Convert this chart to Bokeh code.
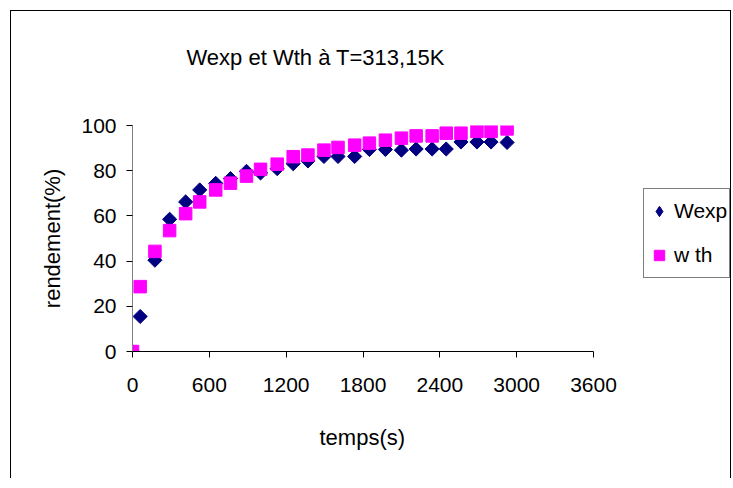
import math
from bokeh.plotting import figure
from bokeh.models import Range1d, FixedTicker, Legend, LegendItem, Title, LinearAxis
from bokeh.embed import file_html
from bokeh.resources import INLINE

# ---- data ----
temps = [0, 60, 175, 290, 415, 525, 650, 765, 890, 1000, 1130, 1255, 1370,
         1495, 1605, 1735, 1850, 1975, 2100, 2215, 2340, 2450, 2565, 2690, 2800, 2925]
wexp = [0, 15.5, 40.4, 58.5, 66.2, 71.5, 74.4, 76.5, 79.7, 79.0, 80.9, 83.1, 84.3,
        86.3, 86.3, 86.3, 89.4, 89.4, 89.1, 89.6, 89.6, 89.6, 92.7, 92.7, 92.7, 92.5]
wth = [0, 28.7, 44.3, 53.5, 61.0, 66.2, 71.5, 74.5, 77.6, 80.6, 82.9, 86.2, 86.9,
       89.1, 90.3, 91.3, 92.2, 93.5, 94.4, 95.4, 95.4, 96.6, 96.6, 97.4, 97.4, 98.5]
x_ticks = [0, 600, 1200, 1800, 2400, 3000, 3600]
y_ticks = [0, 20, 40, 60, 80, 100]
title_text = "Wexp et Wth à T=313,15K"
x_label = "temps(s)"
y_label = "rendement(%)"
series_names = ["Wexp", "w th"]

FONT = "Liberation Sans"
TXT = "black"

# axis 0..3600 spans 461 px; the frame is extended to the right to host the legend
AXIS_PX = 461
FRAME_W = 598
x_end = x_ticks[-1] * FRAME_W / AXIS_PX

p = figure(frame_width=FRAME_W, frame_height=226,
           output_backend="svg", toolbar_location=None,
           x_range=Range1d(0, x_end), y_range=Range1d(0, y_ticks[-1]),
           min_border_left=121, min_border_right=0,
           min_border_top=114, min_border_bottom=126,
           margin=(10, 0, 0, 10),
           styles={"border-left": "1px solid black", "border-top": "1px solid black",
                   "border-right": "1px solid black"})

xa = p.below[0]   # the main x axis
ya = p.left[0]    # the main y axis

# invisible spacer between the frame and the title (hidden tick, no line, no label)
spacer = LinearAxis(ticker=FixedTicker(ticks=[x_ticks[0]]), axis_line_color=None,
                    major_tick_in=0, major_tick_out=56, minor_tick_in=0, minor_tick_out=0,
                    major_tick_line_color=None, minor_tick_line_color=None,
                    major_label_overrides={x_ticks[0]: ""},
                    major_label_text_font_size="0px",
                    major_label_standoff=0)
p.add_layout(spacer, "above")

p.title.text = title_text
p.title.text_font = FONT
p.title.text_font_size = "22px"
p.title.text_font_style = "normal"
p.title.text_color = TXT
p.title.align = "left"
p.title.offset = 54
p.title.standoff = 0

p.outline_line_color = None
p.background_fill_color = "white"
p.border_fill_color = "white"
p.xgrid.visible = False
p.ygrid.visible = False

# x axis
xa.ticker = FixedTicker(ticks=x_ticks)
xa.bounds = (x_ticks[0], x_ticks[-1])
xa.major_label_text_font = FONT
xa.major_label_text_font_size = "21px"
xa.major_label_text_color = TXT
xa.major_label_standoff = 20
xa.major_tick_in = 0
xa.major_tick_out = 6
xa.minor_tick_in = 0
xa.minor_tick_out = 0
xa.axis_line_color = "black"
xa.major_tick_line_color = "black"

# x axis title, centred under the 0..3600 axis
p.add_layout(Title(text=x_label, text_font=FONT, text_font_size="22px",
                   text_font_style="normal", text_color=TXT,
                   align="left", offset=187, standoff=57), "below")

# y axis
ya.ticker = FixedTicker(ticks=y_ticks)
ya.axis_label = y_label
ya.axis_label_text_font = FONT
ya.axis_label_text_font_size = "22px"
ya.axis_label_text_font_style = "normal"
ya.axis_label_text_color = TXT
ya.axis_label_standoff = 13
ya.major_label_text_font = FONT
ya.major_label_text_font_size = "21px"
ya.major_label_text_color = TXT
ya.major_label_standoff = 10
ya.major_tick_in = 0
ya.major_tick_out = 6
ya.minor_tick_in = 0
ya.minor_tick_out = 0
ya.axis_line_color = "#808080"
ya.major_tick_line_color = "black"

NAVY = "#000080"
MAGENTA = "#FF00FF"

r_exp = p.scatter(temps, wexp, marker="square", angle=math.pi / 4, size=10,
                  fill_color=NAVY, line_color=NAVY)
r_th = p.scatter(temps, wth, marker="square", size=12.5,
                 fill_color=MAGENTA, line_color=MAGENTA)
# legend-only diamond glyph (the rotated square is not rotated in legends)
r_exp_leg = p.scatter([float("nan")], [float("nan")], marker="diamond", size=14,
                      fill_color=NAVY, line_color=NAVY)

legend = Legend(items=[LegendItem(label=series_names[0], renderers=[r_exp_leg]),
                       LegendItem(label=series_names[1], renderers=[r_th])],
                location=(511, 73), orientation="vertical",
                padding=2, spacing=4, margin=0,
                glyph_width=26, glyph_height=40, label_height=40,
                label_standoff=2,
                label_text_font=FONT, label_text_font_size="21px",
                label_text_color=TXT,
                border_line_color="black", border_line_width=1,
                background_fill_color="white", background_fill_alpha=1)
p.add_layout(legend, "center")

open("out.html", "w").write(file_html(p, INLINE))
